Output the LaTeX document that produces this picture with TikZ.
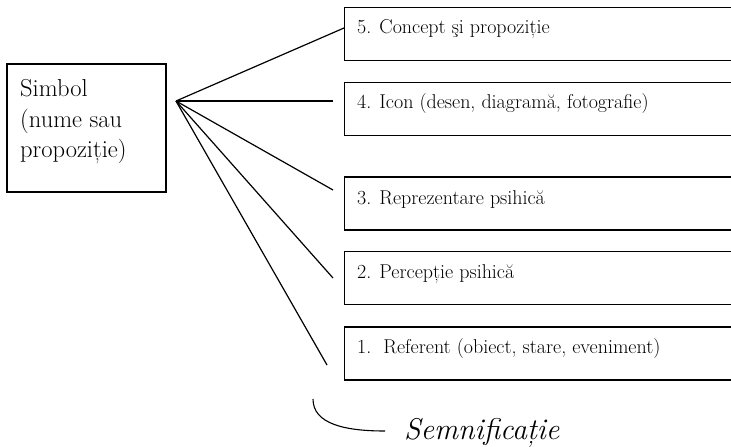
\documentclass[tikz,border=0pt]{standalone}
\begin{document}
\begin{tikzpicture}[x=1pt,y=-1pt,
  boxr/.style={draw=black, line width=1.4pt, rectangle, minimum width=389pt, minimum height=53pt, inner sep=0pt, anchor=west},
  symbox/.style={draw=black, line width=1.4pt, rectangle, minimum width=159pt, minimum height=128pt, inner sep=0pt},
  lbl/.style={anchor=base west, inner sep=0pt, font=\fontsize{20}{24}\selectfont},
  symlbl/.style={anchor=base west, inner sep=0pt, font=\fontsize{24.5}{30}\selectfont},
  conn/.style={line width=1.2pt}]
\useasboundingbox (0,0) rectangle (731,447);
\node[symbox] (sym) at (86.5,128) {};
\node[symlbl] (s1) at (20,96) {Simbol};
\node[symlbl] (s2) at (20,127) {(nume sau};
\node[symlbl] (s3) at (20,157) {propoziție)};
\node[boxr] (b5) at (344,34) {};
\node[boxr] (b4) at (344,109) {};
\node[boxr] (b3) at (344,203.5) {};
\node[boxr] (b2) at (344,278) {};
\node[boxr] (b1) at (344,353.5) {};
\node[lbl] (t5) at (357,33) {5. Concept şi propoziție};
\node[lbl] (t4) at (357,108) {4. Icon (desen, diagramă, fotografie)};
\node[lbl] (t3) at (357,204) {3. Reprezentare psihică};
\node[lbl] (t2) at (357,278) {2. Percepție psihică};
\node[lbl] (t1) at (357,353) {1.\ \ Referent (obiect, stare, eveniment)};
\coordinate (hub) at (176,101);
\coordinate (e5) at (344,28);
\coordinate (e4) at (333,101);
\coordinate (e3) at (333,190);
\coordinate (e2) at (333,278);
\coordinate (e1) at (327,365);
\foreach \e in {e5,e4,e3,e2,e1} \draw[conn] (hub) -- (\e);
\coordinate (cs) at (313,399);
\coordinate (ce) at (385,431);
\draw[line width=1.1pt] (cs) .. controls (313,424) and (345,431) .. (ce);
\node[anchor=base west, inner sep=0pt, font=\fontsize{30}{34}\selectfont\itshape] (sem) at (404,439) {Semnificație};
\end{tikzpicture}
\end{document}
